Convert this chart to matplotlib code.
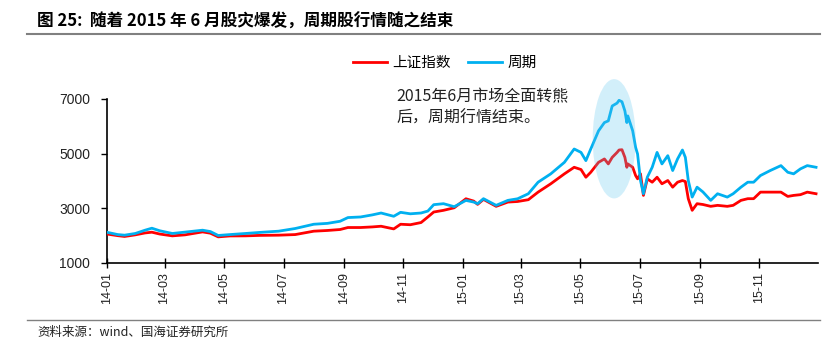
import matplotlib
matplotlib.use("Agg")
import matplotlib.pyplot as plt
import matplotlib.dates as mdates
from matplotlib.patches import Ellipse
from matplotlib.lines import Line2D
import pandas as pd

plt.rcParams['font.family'] = ['Liberation Sans', 'Noto Sans CJK SC', 'DejaVu Sans']

dates = [
    "2014-01-02", "2014-01-12", "2014-01-19", "2014-01-30", "2014-02-09", "2014-02-16",
    "2014-02-24", "2014-03-09", "2014-03-22", "2014-04-09", "2014-04-17", "2014-04-25",
    "2014-05-07", "2014-05-23", "2014-06-07", "2014-06-26", "2014-07-13", "2014-08-01",
    "2014-08-15", "2014-08-28", "2014-09-05", "2014-09-18", "2014-09-30", "2014-10-09",
    "2014-10-22", "2014-10-29", "2014-11-08", "2014-11-19", "2014-11-26", "2014-12-02",
    "2014-12-12", "2014-12-23", "2015-01-04", "2015-01-12", "2015-01-16", "2015-01-22",
    "2015-02-04", "2015-02-16", "2015-02-26", "2015-03-09", "2015-03-19", "2015-04-01",
    "2015-04-15", "2015-04-25", "2015-05-02", "2015-05-07", "2015-05-12", "2015-05-20",
    "2015-05-26", "2015-05-30", "2015-06-03", "2015-06-08", "2015-06-10", "2015-06-13",
    "2015-06-16", "2015-06-18", "2015-06-19", "2015-06-24", "2015-06-27", "2015-06-29",
    "2015-07-02", "2015-07-05", "2015-07-09", "2015-07-14", "2015-07-19", "2015-07-24",
    "2015-07-30", "2015-08-04", "2015-08-09", "2015-08-14", "2015-08-17", "2015-08-20",
    "2015-08-24", "2015-08-29", "2015-09-04", "2015-09-12", "2015-09-19", "2015-09-29",
    "2015-10-05", "2015-10-13", "2015-10-20", "2015-10-26", "2015-11-02", "2015-11-12",
    "2015-11-23", "2015-11-30", "2015-12-06", "2015-12-13", "2015-12-20", "2015-12-29",
]

sse = [
    2054, 2000, 1971, 2030, 2100, 2127,
    2060, 1993, 2030, 2138, 2090, 1956,
    1990, 1993, 2010, 2018, 2040, 2164,
    2190, 2225, 2298, 2298, 2320, 2345,
    2247, 2418, 2400, 2480, 2684, 2865,
    2927, 3020, 3350, 3265, 3145, 3327,
    3073, 3229, 3250, 3316, 3593, 3898,
    4262, 4502, 4420, 4138, 4320, 4684,
    4807, 4625, 4865, 5047, 5134, 5145,
    4865, 4502, 4625, 4502, 4200, 4080,
    4262, 3473, 4080, 3956, 4138, 3898,
    4018, 3774, 3956, 4018, 3980, 3353,
    2927, 3170, 3140, 3073, 3109, 3073,
    3109, 3291, 3353, 3353, 3593, 3593,
    3593, 3436, 3473, 3500, 3593, 3534,
]

cyclical = [
    2116, 2040, 2018, 2080, 2200, 2273,
    2180, 2080, 2130, 2200, 2150, 2007,
    2040, 2080, 2120, 2164, 2262, 2418,
    2450, 2527, 2662, 2684, 2760, 2829,
    2709, 2854, 2800, 2829, 2900, 3134,
    3170, 3060, 3290, 3229, 3170, 3353,
    3109, 3291, 3350, 3534, 3956, 4262,
    4684, 5171, 5047, 4745, 5171, 5836,
    6138, 6200, 6745, 6850, 6952, 6900,
    6563, 6138, 6381, 5836, 5229, 4989,
    4018, 3534, 4138, 4502, 5047, 4625,
    4927, 4382, 4807, 5134, 4865, 4018,
    3411, 3774, 3600, 3291, 3534, 3411,
    3534, 3774, 3956, 3956, 4200, 4382,
    4563, 4320, 4262, 4444, 4563, 4502,
]

series_names = ["上证指数", "周期"]
yticks = [1000, 3000, 5000, 7000]

x = pd.to_datetime(dates)

W, H = 823, 343
fig = plt.figure(figsize=(W / 100, H / 100), dpi=100)
left, right, top, bottom = 107, 818, 99, 263
ax = fig.add_axes([left / W, 1 - bottom / H, (right - left) / W, (bottom - top) / H])

red, blue = "#FF0000", "#00B0F0"
l1, = ax.plot(x, sse, color=red, lw=2.0, zorder=3, solid_joinstyle='round')
l2, = ax.plot(x, cyclical, color=blue, lw=2.0, zorder=4, solid_joinstyle='round')

ax.set_xlim(pd.Timestamp("2014-01-01"), pd.Timestamp("2015-12-31"))
ax.set_ylim(1000, 7000)
ax.set_yticks(yticks)
ax.set_yticklabels([str(v) for v in yticks], fontsize=10, color="#222222")
ax.xaxis.set_major_locator(mdates.MonthLocator(bymonth=[1, 3, 5, 7, 9, 11]))
ax.xaxis.set_major_formatter(mdates.DateFormatter('%y-%m'))
for lab in ax.get_xticklabels():
    lab.set_rotation(90)
    lab.set_fontsize(9)
    lab.set_color("#222222")
ax.tick_params(axis='y', direction='out', length=4, width=1, pad=8)
ax.tick_params(axis='x', direction='inout', length=7, width=1, pad=3)
for s in ['top', 'right']:
    ax.spines[s].set_visible(False)
for s in ['left', 'bottom']:
    ax.spines[s].set_linewidth(1.2)
    ax.spines[s].set_color('black')

# highlight ellipse
c = mdates.date2num(pd.Timestamp("2015-06-05"))
ell = Ellipse((c, 5545), width=44, height=4364, facecolor="#5BC5F0", alpha=0.27,
              edgecolor='none', zorder=5, clip_on=False)
ax.add_patch(ell)

cjk = ['Noto Sans CJK SC', 'DejaVu Sans']

# Title
fig.text(37 / W, 1 - 22 / H, "图 25:  随着 2015 年 6 月股灾爆发，周期股行情随之结束",
         fontsize=12, fontweight='bold', family=cjk, va='center', ha='left', color='black')
fig.add_artist(Line2D([27 / W, 820 / W], [1 - 34 / H, 1 - 34 / H], color='#808080', lw=1.5))

# Legend
fig.legend([l1, l2], series_names, loc='center', bbox_to_anchor=(445 / W, 1 - 63 / H),
           ncol=2, frameon=False, prop={'family': cjk, 'size': 10.5},
           handlelength=2.3, columnspacing=1.2, handletextpad=0.4)

# Annotation
fig.text(396 / W, 1 - 97 / H, "2015年6月市场全面转熊", fontsize=11.5, family=cjk,
         va='center', ha='left', color='#222222')
fig.text(396 / W, 1 - 118 / H, "后，周期行情结束。", fontsize=11.5, family=cjk,
         va='center', ha='left', color='#222222')

# Footer
fig.add_artist(Line2D([27 / W, 820 / W], [1 - 320 / H, 1 - 320 / H], color='#808080', lw=1.0))
fig.text(37 / W, 1 - 332 / H, "资料来源：wind、国海证券研究所", fontsize=9, family=cjk,
         va='center', ha='left', color='#222222')

fig.savefig("out.png", dpi=100)
